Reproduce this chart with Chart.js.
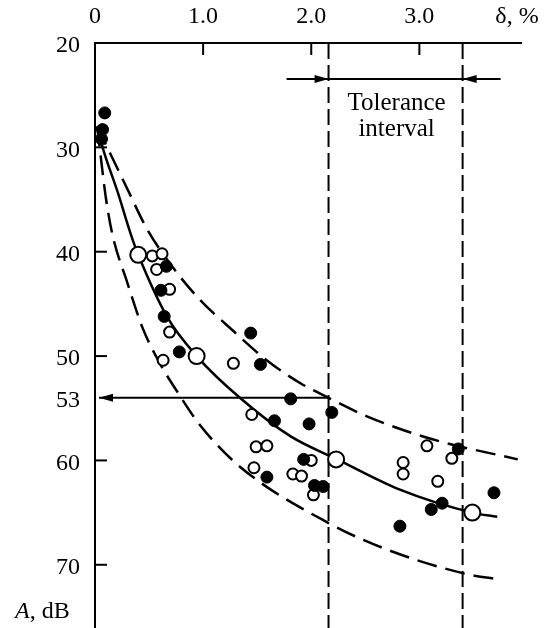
<!DOCTYPE html>
<html>
<head>
<meta charset="utf-8">
<script src="https://cdn.jsdelivr.net/npm/chart.js@4.4.0/dist/chart.umd.min.js"></script>
<style>
body { margin: 0; background: #fff; }
</style>
</head>
<body>
<canvas id="grafico" width="547" height="628"></canvas>
<script>
// eixos
const xTicks = [0, 1.0, 2.0, 3.0];
const yTicks = [20, 30, 40, 50, 60, 70];
const nivelMarcado = 54.0;   // onde a seta horizontal fica no desenho
const rotuloNivel = '53';
const toleranciaMin = 2.16;
const toleranciaMax = 3.40;

// pontos cheios
const cheiosX = [0.09, 0.07, 0.06, 0.66, 0.61, 0.64, 0.78, 1.44, 1.53, 1.81, 1.66, 1.98, 2.19, 1.93, 1.59, 2.03, 2.11, 2.82, 3.36, 3.11, 3.21, 3.69];
const cheiosY = [26.7, 28.3, 29.2, 41.4, 43.7, 46.2, 49.6, 47.8, 50.8, 54.1, 56.2, 56.5, 55.4, 59.9, 61.6, 62.4, 62.5, 66.3, 58.9, 64.7, 64.1, 63.1];

// pontos vazios pequenos
const vaziosX = [0.53, 0.62, 0.57, 0.69, 0.69, 0.63, 1.28, 1.45, 1.49, 1.59, 2.00, 1.47, 1.83, 1.91, 2.02, 2.85, 2.85, 3.07, 3.30, 3.17];
const vaziosY = [40.4, 40.2, 41.7, 43.6, 47.7, 50.4, 50.7, 55.6, 58.7, 58.6, 60.0, 60.7, 61.3, 61.5, 63.3, 60.2, 61.3, 58.6, 59.8, 62.0];

// pontos vazios grandes (sobre a curva media)
const grandesX = [0.40, 0.94, 2.23, 3.49];
const grandesY = [40.3, 50.0, 59.9, 65.0];

// curva media
const mediaX = [0.02, 0.07, 0.21, 0.34, 0.40, 0.67, 0.94, 1.34, 1.81, 2.24, 2.82, 3.49, 3.72];
const mediaY = [28.0, 30.0, 34.3, 38.6, 40.3, 46.3, 50.0, 54.0, 57.7, 59.9, 62.8, 65.0, 65.4];

// limite superior (tracejado)
const superiorX = [0.02, 0.16, 0.30, 0.48, 0.72, 0.97, 1.28, 1.60, 1.90, 2.16, 2.52, 3.13, 3.91];
const superiorY = [28.0, 31.0, 34.0, 37.8, 41.5, 44.6, 47.6, 50.5, 52.6, 54.0, 55.8, 58.0, 59.9];

// limite inferior (tracejado)
const inferiorX = [0.02, 0.06, 0.10, 0.16, 0.30, 0.44, 0.60, 0.76, 0.97, 1.34, 2.16, 2.69, 3.40, 3.73];
const inferiorY = [28.0, 31.5, 34.8, 38.3, 43.0, 47.3, 50.7, 53.4, 56.6, 60.6, 66.0, 68.5, 70.8, 71.4];

function pares(xs, ys) {
    return xs.map((v, i) => ({ x: v, y: ys[i] }));
}

const fonte = "'Liberation Serif', 'DejaVu Serif', serif";

function seta(ctx, xIni, yIni, xFim, yFim) {
    const ang = Math.atan2(yFim - yIni, xFim - xIni);
    ctx.beginPath();
    ctx.moveTo(xIni, yIni);
    ctx.lineTo(xFim, yFim);
    ctx.stroke();
    ctx.beginPath();
    ctx.moveTo(xFim, yFim);
    ctx.lineTo(xFim - 14 * Math.cos(ang) + 4 * Math.sin(ang), yFim - 14 * Math.sin(ang) - 4 * Math.cos(ang));
    ctx.lineTo(xFim - 14 * Math.cos(ang) - 4 * Math.sin(ang), yFim - 14 * Math.sin(ang) + 4 * Math.cos(ang));
    ctx.closePath();
    ctx.fill();
}

const extras = {
    id: 'extras',
    beforeDatasetsDraw(chart) {
        const { ctx, chartArea } = chart;
        const x = chart.scales.x;
        const y = chart.scales.y;
        const fundo = chart.height;
        ctx.save();
        ctx.strokeStyle = '#000';
        ctx.fillStyle = '#000';

        // eixo vertical ate o fim da figura
        ctx.lineWidth = 2;
        ctx.beginPath();
        ctx.moveTo(chartArea.left, chartArea.bottom - 2);
        ctx.lineTo(chartArea.left, fundo);
        ctx.stroke();

        // tracos internos dos eixos
        xTicks.slice(1).forEach(v => {
            const px = x.getPixelForValue(v);
            ctx.beginPath();
            ctx.moveTo(px, chartArea.top);
            ctx.lineTo(px, chartArea.top + 12);
            ctx.stroke();
        });
        yTicks.slice(1).forEach(v => {
            const py = y.getPixelForValue(v);
            ctx.beginPath();
            ctx.moveTo(chartArea.left, py);
            ctx.lineTo(chartArea.left + 12, py);
            ctx.stroke();
        });

        // linhas verticais do intervalo de tolerancia
        const xa = x.getPixelForValue(toleranciaMin);
        const xb = x.getPixelForValue(toleranciaMax);
        ctx.setLineDash([16, 6]);
        [xa, xb].forEach(px => {
            ctx.beginPath();
            ctx.moveTo(px, chartArea.top);
            ctx.lineTo(px, fundo);
            ctx.stroke();
        });
        ctx.setLineDash([]);

        // setas do intervalo
        const ys = chartArea.top + 36;
        seta(ctx, xa - 42, ys, xa, ys);
        seta(ctx, xb + 38, ys, xb, ys);
        ctx.beginPath();
        ctx.moveTo(xa, ys);
        ctx.lineTo(xb, ys);
        ctx.stroke();

        // seta horizontal do nivel 53
        const yn = y.getPixelForValue(nivelMarcado);
        seta(ctx, x.getPixelForValue(toleranciaMin), yn, chartArea.left + 4, yn);

        // textos
        ctx.font = '25px ' + fonte;
        ctx.textAlign = 'center';
        ctx.textBaseline = 'middle';
        ctx.fillText('Tolerance', (xa + xb) / 2 + 1, chartArea.top + 60);
        ctx.fillText('interval', (xa + xb) / 2 + 1, chartArea.top + 86);
        ctx.restore();
    },
    afterDraw(chart) {
        const { ctx } = chart;
        ctx.save();
        ctx.fillStyle = '#000';
        ctx.textBaseline = 'middle';
        ctx.font = '24px ' + fonte;
        ctx.textAlign = 'center';
        ctx.fillText('\u03b4, %', 517, 17);
        ctx.textAlign = 'left';
        ctx.font = 'italic 24px ' + fonte;
        ctx.fillText('A', 15, 612);
        const w = ctx.measureText('A').width;
        ctx.font = '24px ' + fonte;
        ctx.fillText(', dB', 15 + w, 612);
        ctx.restore();
    }
};

const ctx = document.getElementById('grafico').getContext('2d');

new Chart(ctx, {
    type: 'scatter',
    data: {
        datasets: [
            {
                label: 'cheios',
                data: pares(cheiosX, cheiosY),
                pointRadius: 6,
                pointBackgroundColor: '#000',
                pointBorderColor: '#000',
                pointBorderWidth: 1
            },
            {
                label: 'vazios',
                data: pares(vaziosX, vaziosY),
                pointRadius: 5.5,
                pointBackgroundColor: '#fff',
                pointBorderColor: '#000',
                pointBorderWidth: 2
            },
            {
                label: 'grandes',
                data: pares(grandesX, grandesY),
                pointRadius: 8,
                pointBackgroundColor: '#fff',
                pointBorderColor: '#000',
                pointBorderWidth: 2
            },
            {
                label: 'media',
                data: pares(mediaX, mediaY),
                showLine: true,
                pointRadius: 0,
                borderColor: '#000',
                borderWidth: 2.5,
                cubicInterpolationMode: 'monotone'
            },
            {
                label: 'superior',
                data: pares(superiorX, superiorY),
                showLine: true,
                pointRadius: 0,
                borderColor: '#000',
                borderWidth: 2.5,
                borderDash: [20, 9],
                cubicInterpolationMode: 'monotone'
            },
            {
                label: 'inferior',
                data: pares(inferiorX, inferiorY),
                showLine: true,
                pointRadius: 0,
                borderColor: '#000',
                borderWidth: 2.5,
                borderDash: [20, 9],
                cubicInterpolationMode: 'monotone'
            }
        ]
    },
    options: {
        responsive: false,
        animation: false,
        layout: { padding: { left: 0, right: 26, top: 0, bottom: 0 } },
        plugins: {
            legend: { display: false },
            tooltip: { enabled: false }
        },
        scales: {
            x: {
                type: 'linear',
                position: 'top',
                min: 0,
                max: 3.94,
                afterFit(scale) {
                    scale.height = 43;
                    scale.paddingLeft = 0;
                    scale.paddingRight = 0;
                },
                afterBuildTicks(scale) { scale.ticks = xTicks.map(v => ({ value: v })); },
                grid: { display: false, drawTicks: false },
                border: { display: true, color: '#000', width: 2 },
                ticks: {
                    color: '#000',
                    padding: 12,
                    font: { family: fonte, size: 24 },
                    callback: v => v === 0 ? '0' : v.toFixed(1)
                }
            },
            y: {
                type: 'linear',
                reverse: true,
                min: 20,
                max: 75.1,
                afterFit(scale) {
                    scale.width = 95;
                    scale.paddingTop = 0;
                    scale.paddingBottom = 0;
                },
                afterBuildTicks(scale) {
                    scale.ticks = yTicks.concat([nivelMarcado]).sort((a, b) => a - b).map(v => ({ value: v }));
                },
                grid: { display: false, drawTicks: false },
                border: { display: true, color: '#000', width: 2 },
                ticks: {
                    color: '#000',
                    padding: 15,
                    labelOffset: 3,
                    font: { family: fonte, size: 24 },
                    callback: v => v === nivelMarcado ? rotuloNivel : String(v)
                }
            }
        }
    },
    plugins: [extras]
});
</script>
</body>
</html>
